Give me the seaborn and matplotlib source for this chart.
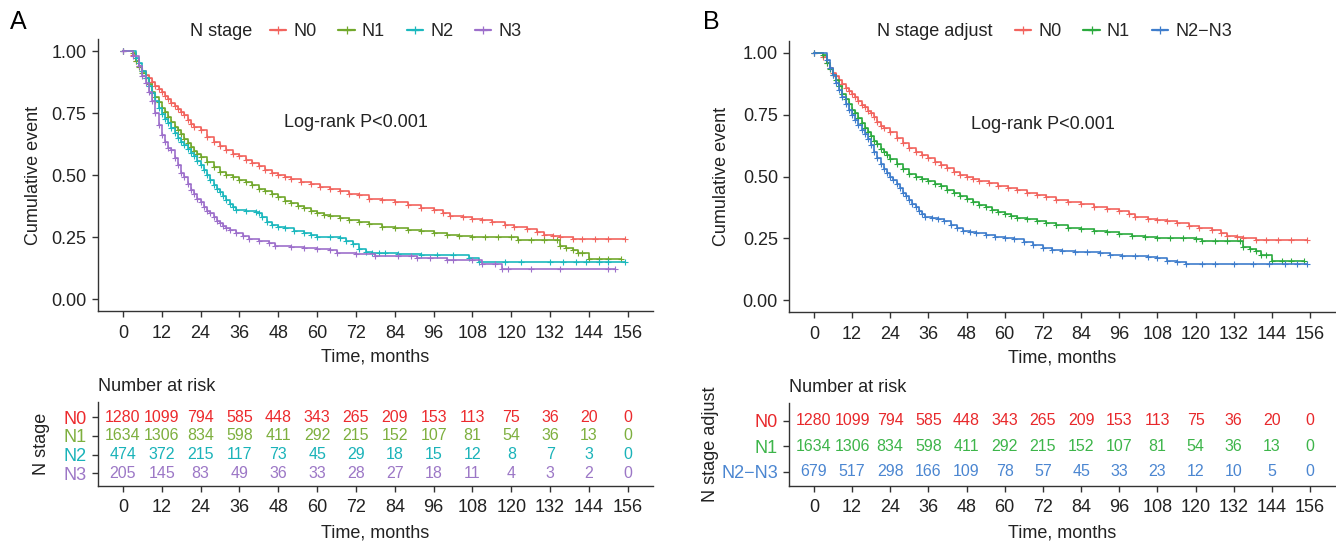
import numpy as np
import pandas as pd
import matplotlib.pyplot as plt
from matplotlib.lines import Line2D
import seaborn as sns

# ---------------------------------------------------------
# Values
# ---------------------------------------------------------
months = [0, 12, 24, 36, 48, 60, 72, 84, 96, 108, 120, 132, 144, 156]

# N0 (same curve in both panels)
n0_t = [0, 3, 4, 5, 6, 7, 8, 9, 10, 11, 12, 13, 14, 15, 16, 17, 18, 19, 20, 21, 22, 24, 26, 28,
        30, 32, 34, 36, 38, 40, 42, 44, 46, 48, 50, 52, 55, 58, 61, 64, 67, 70, 73, 76, 80, 84,
        88, 92, 96, 99, 101, 105, 108, 111, 114, 118, 121, 125, 128, 130, 133, 135, 139, 142,
        146, 150, 155]
n0_s = [1.0, 0.985, 0.96, 0.94, 0.92, 0.905, 0.89, 0.875, 0.86, 0.848, 0.835, 0.82, 0.805, 0.79,
        0.78, 0.765, 0.755, 0.74, 0.72, 0.705, 0.695, 0.68, 0.655, 0.635, 0.615, 0.60, 0.585,
        0.575, 0.56, 0.548, 0.535, 0.52, 0.508, 0.50, 0.49, 0.482, 0.472, 0.462, 0.452, 0.445,
        0.435, 0.425, 0.418, 0.405, 0.398, 0.39, 0.378, 0.368, 0.36, 0.348, 0.335, 0.33, 0.323,
        0.318, 0.31, 0.298, 0.292, 0.283, 0.27, 0.258, 0.255, 0.25, 0.241, 0.241, 0.241, 0.241,
        0.241]

# N1 (same curve in both panels)
n1_t = [0, 3, 4, 5, 6, 7, 8, 9, 10, 11, 12, 13, 14, 15, 16, 17, 18, 19, 20, 21, 22, 23, 24, 26,
        28, 30, 32, 34, 36, 38, 40, 42, 44, 46, 48, 50, 52, 54, 56, 58, 60, 62, 64, 67, 70, 73,
        76, 80, 84, 88, 92, 96, 100, 104, 108, 112, 116, 120, 122, 126, 130, 134, 135, 137, 139,
        140.5, 142, 144, 147, 150, 154]
n1_s = [1.0, 0.99, 0.96, 0.935, 0.91, 0.89, 0.865, 0.835, 0.815, 0.795, 0.77, 0.755, 0.735,
        0.715, 0.695, 0.68, 0.665, 0.645, 0.63, 0.612, 0.598, 0.585, 0.572, 0.552, 0.532, 0.512,
        0.50, 0.49, 0.48, 0.47, 0.46, 0.445, 0.435, 0.422, 0.41, 0.397, 0.386, 0.375, 0.366,
        0.356, 0.348, 0.34, 0.333, 0.326, 0.318, 0.31, 0.302, 0.292, 0.286, 0.28, 0.275, 0.266,
        0.258, 0.254, 0.252, 0.252, 0.25, 0.248, 0.238, 0.238, 0.238, 0.238, 0.214, 0.205, 0.198,
        0.184, 0.184, 0.16, 0.16, 0.16, 0.16]

# N2 (panel A)
n2_t = [0, 4, 5, 6, 7, 8, 9, 10, 11, 12, 13, 14, 15, 16, 17, 18, 19, 20, 21, 22, 23, 24, 25, 26,
        27, 28, 29, 30, 31, 32, 33, 34, 35, 38, 41, 42, 43, 44.5, 46, 48, 50, 53, 56, 58, 60, 64,
        67, 69, 71, 73, 75, 77, 79, 81, 85, 92, 97, 102, 107, 110, 118, 123, 132, 136, 140, 143,
        147, 150, 155]
n2_s = [1.0, 0.97, 0.95, 0.92, 0.89, 0.86, 0.83, 0.80, 0.77, 0.745, 0.725, 0.71, 0.69, 0.67,
        0.65, 0.635, 0.62, 0.605, 0.59, 0.575, 0.555, 0.54, 0.52, 0.50, 0.48, 0.46, 0.445, 0.43,
        0.415, 0.40, 0.385, 0.37, 0.36, 0.355, 0.352, 0.345, 0.33, 0.312, 0.30, 0.29, 0.285,
        0.275, 0.265, 0.258, 0.251, 0.251, 0.245, 0.235, 0.22, 0.20, 0.19, 0.184, 0.184, 0.184,
        0.18, 0.177, 0.177, 0.177, 0.164, 0.151, 0.151, 0.151, 0.151, 0.151, 0.151, 0.151, 0.151,
        0.151, 0.151]

# N3 (panel A)
n3_t = [0, 3, 5, 6, 7, 8, 9, 10, 11, 12, 13, 14, 15, 16, 17, 18, 19, 20, 21, 22, 23, 24, 25, 26,
        27, 28, 29, 30, 31, 32, 33, 35, 37, 39, 42, 45, 47, 52, 56, 60, 64, 66, 72, 78, 85, 89,
        91, 95, 100, 102, 108, 111, 115, 117, 119, 126, 135, 150, 152]
n3_s = [1.0, 0.98, 0.94, 0.90, 0.87, 0.835, 0.80, 0.75, 0.70, 0.66, 0.635, 0.61, 0.60, 0.57,
        0.54, 0.51, 0.49, 0.465, 0.44, 0.425, 0.405, 0.39, 0.37, 0.355, 0.345, 0.33, 0.315,
        0.305, 0.295, 0.285, 0.278, 0.265, 0.255, 0.24, 0.232, 0.225, 0.215, 0.21, 0.204, 0.20,
        0.198, 0.185, 0.18, 0.175, 0.175, 0.175, 0.165, 0.165, 0.158, 0.158, 0.158, 0.141, 0.141,
        0.12, 0.12, 0.12, 0.12, 0.12, 0.12]

# N2-N3 (panel B)
n23_t = [0, 4, 5, 6, 7, 8, 9, 10, 11, 12, 13, 14, 15, 16, 17, 18, 19, 20, 21, 22, 23, 24, 25, 26,
         27, 28, 29, 30, 31, 32, 33, 34, 35, 37, 39, 41, 43, 45, 47, 49, 51, 54, 57, 60, 63, 66,
         69, 72, 75, 78, 82, 86, 90, 93, 97, 101, 105, 108, 111, 114, 117, 122, 126, 132, 138,
         143, 148, 152, 155]
n23_s = [1.0, 0.97, 0.94, 0.91, 0.88, 0.85, 0.82, 0.795, 0.77, 0.748, 0.73, 0.71, 0.69, 0.672,
         0.652, 0.628, 0.60, 0.575, 0.55, 0.532, 0.515, 0.50, 0.485, 0.468, 0.452, 0.435, 0.42,
         0.405, 0.39, 0.375, 0.36, 0.348, 0.338, 0.332, 0.327, 0.318, 0.305, 0.29, 0.28, 0.275,
         0.27, 0.263, 0.256, 0.25, 0.248, 0.235, 0.223, 0.212, 0.203, 0.197, 0.196, 0.194, 0.19,
         0.182, 0.18, 0.177, 0.175, 0.172, 0.157, 0.152, 0.146, 0.146, 0.146, 0.146, 0.146, 0.146,
         0.146, 0.146, 0.146]

risk_n0 = [1280, 1099, 794, 585, 448, 343, 265, 209, 153, 113, 75, 36, 20, 0]
risk_n1 = [1634, 1306, 834, 598, 411, 292, 215, 152, 107, 81, 54, 36, 13, 0]
risk_n2 = [474, 372, 215, 117, 73, 45, 29, 18, 15, 12, 8, 7, 3, 0]
risk_n3 = [205, 145, 83, 49, 36, 33, 28, 27, 18, 11, 4, 3, 2, 0]
risk_n23 = [679, 517, 298, 166, 109, 78, 57, 45, 33, 23, 12, 10, 5, 0]

groups_a = ['N0', 'N1', 'N2', 'N3']
groups_b = ['N0', 'N1', 'N2\u2212N3']

line_a = ['#F2645E', '#72A82C', '#1BB8BE', '#9D6FCB']
text_a = ['#EC2A2D', '#7DAF3E', '#1AB3B9', '#9C77C6']
line_b = ['#F2645E', '#2BAA3E', '#3E7DCC']
text_b = ['#E8282B', '#3DB54A', '#4B86D1']

# ---------------------------------------------------------
# Style
# ---------------------------------------------------------
sns.set_style('ticks')
plt.rcParams['font.family'] = ['Liberation Sans', 'DejaVu Sans']
FS = 13
DARK = '#222222'
plt.rcParams.update({
    'axes.edgecolor': '#333333', 'axes.linewidth': 1.0,
    'xtick.color': '#333333', 'ytick.color': '#333333',
    'xtick.labelcolor': DARK, 'ytick.labelcolor': DARK,
    'xtick.major.size': 4.5, 'ytick.major.size': 4.5,
    'xtick.major.width': 1.0, 'ytick.major.width': 1.0,
    'xtick.major.pad': 5, 'ytick.major.pad': 3.5,
    'xtick.labelsize': FS, 'ytick.labelsize': FS,
})

fig = plt.figure(figsize=(13.36, 5.44), dpi=100)
W, H = 1336.0, 544.0


def box(l, t, r, b):
    return [l / W, 1 - b / H, (r - l) / W, (b - t) / H]


def km_frame(times, survs, names):
    parts = []
    for t, s, n in zip(times, survs, names):
        parts.append(pd.DataFrame({'time': t, 'surv': s, 'group': n}))
    return pd.concat(parts, ignore_index=True)


def draw_panel(ax, tab, df, names, lcols, tcols, risks, ttl, letter, tab_label,
               letter_x, title_x, leg_x, ylab_x, tlab_x, tab_ylim):
    sns.lineplot(data=df, x='time', y='surv', hue='group', hue_order=names,
                 palette=lcols, drawstyle='steps-post', estimator=None, sort=False,
                 marker='+', markersize=5, markeredgewidth=0.8, markeredgecolor=None,
                 linewidth=1.2, legend=False, ax=ax)
    ax.set_xlim(-7.8, 163.8)
    ax.set_ylim(-0.05, 1.05)
    ax.set_xticks(months)
    ax.set_yticks([0, 0.25, 0.5, 0.75, 1.0])
    ax.set_yticklabels(['0.00', '0.25', '0.50', '0.75', '1.00'])
    ax.set_xlabel('Time, months', fontsize=FS, color=DARK, labelpad=5)
    ax.set_ylabel('Cumulative event', fontsize=FS, color=DARK)
    ax.yaxis.set_label_coords(ylab_x, 0.5)
    ax.text(72, 0.71, 'Log-rank P<0.001', fontsize=FS, color=DARK, ha='center', va='center')
    sns.despine(ax=ax)

    # legend on one line at the top
    fig.text(title_x / W, 1 - 32 / H, ttl, fontsize=FS, color=DARK, va='center', ha='left')
    handles = [Line2D([], [], color=c, lw=1.6, marker='+', markersize=6, mew=0.9) for c in lcols]
    fig.legend(handles, names, loc='center left', bbox_to_anchor=(leg_x / W, 1 - 32 / H),
               ncol=len(names), frameon=False, fontsize=FS, handlelength=0.9,
               handletextpad=0.4, columnspacing=1.2, borderpad=0, borderaxespad=0)
    fig.text(letter_x / W, 1 - 22 / H, letter, fontsize=18, color='black', va='center', ha='left')

    # number at risk table
    n = len(names)
    rows = list(range(n, 0, -1))
    for r, cnts, col in zip(rows, risks, tcols):
        for m, c in zip(months, cnts):
            tab.text(m, r, str(c), color=col, fontsize=FS - 1.5, ha='center', va='center')
    tab.set_xlim(-7.8, 163.8)
    tab.set_ylim(*tab_ylim)
    tab.set_xticks(months)
    tab.set_yticks(rows)
    tab.set_yticklabels(names)
    for lab, col in zip(tab.get_yticklabels(), tcols):
        lab.set_color(col)
    tab.set_xlabel('Time, months', fontsize=FS, color=DARK, labelpad=6)
    tab.set_ylabel(tab_label, fontsize=FS, color=DARK)
    tab.yaxis.set_label_coords(tlab_x, 0.5)
    tab.set_title('Number at risk', loc='left', fontsize=FS, color=DARK, pad=8)
    sns.despine(ax=tab)


# Panel A
ax_a = fig.add_axes(box(97.7, 38.6, 653, 311.4))
tab_a = fig.add_axes(box(97.7, 402, 653, 486))
df_a = km_frame([n0_t, n1_t, n2_t, n3_t], [n0_s, n1_s, n2_s, n3_s], groups_a)
draw_panel(ax_a, tab_a, df_a, groups_a, line_a, text_a,
           [risk_n0, risk_n1, risk_n2, risk_n3], 'N stage', 'A', 'N stage',
           letter_x=10, title_x=190, leg_x=270, ylab_x=-0.10, tlab_x=-0.086,
           tab_ylim=(0.32, 4.8))

# Panel B
ax_b = fig.add_axes(box(789, 40.6, 1335, 312.4))
tab_b = fig.add_axes(box(789, 403, 1335, 486))
df_b = km_frame([n0_t, n1_t, n23_t], [n0_s, n1_s, n23_s], groups_b)
draw_panel(ax_b, tab_b, df_b, groups_b, line_b, text_b,
           [risk_n0, risk_n1, risk_n23], 'N stage adjust', 'B', 'N stage adjust',
           letter_x=703, title_x=877, leg_x=1015, ylab_x=-0.108, tlab_x=-0.128,
           tab_ylim=(0.45, 3.7))

fig.savefig('out.png', dpi=100, facecolor='white')
